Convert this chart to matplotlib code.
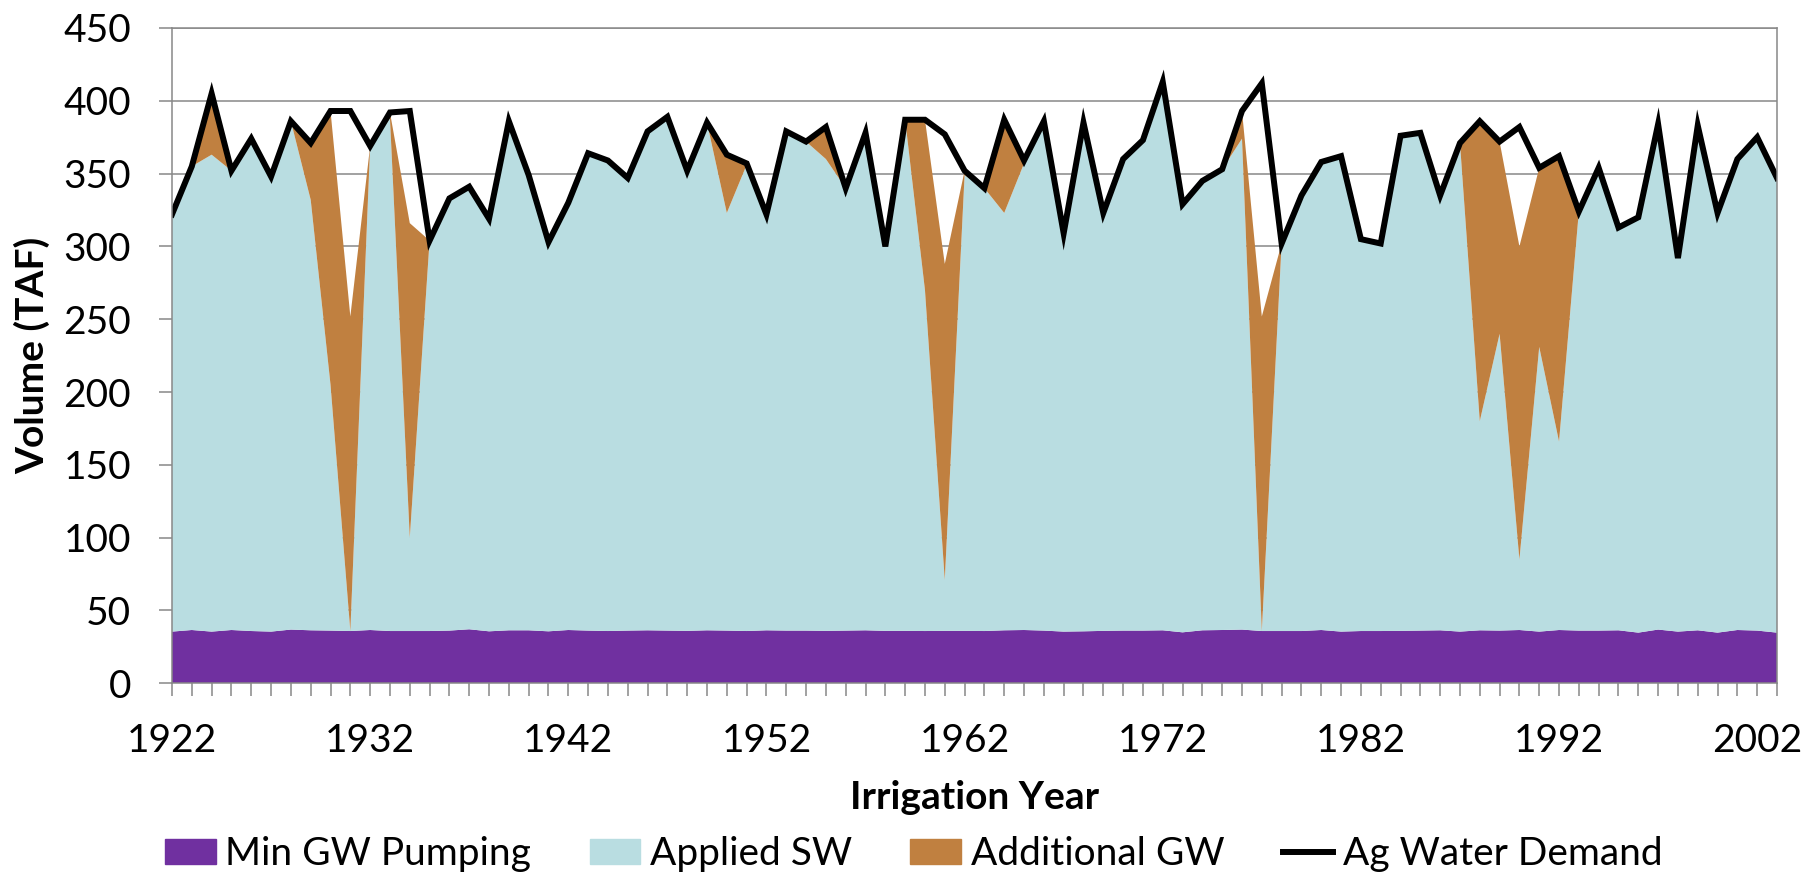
import matplotlib
matplotlib.use("Agg")
import matplotlib.pyplot as plt
from matplotlib.patches import Patch
from matplotlib.lines import Line2D

plt.rcParams['font.family'] = ['Lato', 'DejaVu Sans']

# irrigation years 1922 - 2003
years = list(range(1922, 2004))

# values (TAF)
min_gw = [35.5, 36.6, 35.5, 36.6, 35.9, 35.5, 36.9, 36.4, 36.2, 35.9,
          36.6, 35.9, 35.9, 35.9, 36.2, 37.1, 35.7, 36.4, 36.4, 35.7,
          36.6, 36.2, 35.9, 36.2, 36.4, 36.2, 36.0, 36.4, 36.2, 35.9,
          36.4, 36.2, 36.2, 36.0, 36.2, 36.4, 36.0, 36.0, 35.9, 36.0,
          36.0, 35.9, 36.4, 36.6, 36.2, 35.5, 35.7, 36.0, 36.2, 36.2,
          36.4, 35.0, 36.4, 36.6, 36.9, 35.9, 35.9, 35.9, 36.6, 35.5,
          35.9, 35.9, 36.0, 36.2, 36.4, 35.5, 36.4, 36.2, 36.6, 35.5,
          36.6, 36.2, 36.2, 36.4, 34.8, 36.9, 35.5, 36.4, 34.8, 36.6,
          36.2, 34.8]

applied_sw = [286.5, 318.4, 327.5, 315.4, 338.1, 312.5, 349.1, 295.6, 168.8, 0.0,
              332.4, 352.1, 64.1, 268.1, 296.8, 303.9, 283.3, 349.6, 312.6, 267.3,
              293.4, 327.8, 323.1, 310.8, 342.6, 352.8, 316.0, 348.6, 286.8, 320.1,
              285.6, 342.8, 335.8, 324.0, 303.8, 341.6, 264.0, 351.0, 234.1, 35.0,
              313.0, 304.1, 286.6, 320.4, 349.8, 273.5, 349.3, 287.0, 323.8, 336.8,
              376.6, 294.0, 308.6, 316.4, 337.1, 0.0, 266.1, 299.1, 321.4, 326.5,
              269.1, 266.1, 340.0, 341.8, 298.6, 335.5, 143.6, 203.8, 48.4, 195.5,
              129.4, 287.8, 317.8, 276.6, 285.2, 347.1, 256.5, 346.6, 288.2, 323.4,
              338.8, 312.2]

additional_gw = [0, 0, 42, 0, 0, 0, 0, 39, 188, 216,
                 0, 4, 216, 0, 0, 0, 0, 0, 0, 0,
                 0, 0, 0, 0, 0, 0, 0, 0, 40, 1,
                 0, 0, 0, 22, 0, 0, 0, 0, 117, 217,
                 3, 0, 64, 2, 0, 0, 0, 0, 0, 0,
                 0, 0, 0, 0, 19, 216, 0, 0, 0, 0,
                 0, 0, 0, 0, 0, 0, 206, 132, 215, 123,
                 196, 0, 0, 0, 0, 0, 0, 0, 0, 0,
                 0, 0]

ag_demand = [322, 355, 405, 352, 374, 348, 386, 371, 393, 393,
             369, 392, 393, 304, 333, 341, 319, 386, 349, 303,
             330, 364, 359, 347, 379, 389, 352, 385, 363, 357,
             322, 379, 372, 382, 340, 378, 300, 387, 387, 377,
             352, 340, 387, 359, 386, 309, 385, 323, 360, 373,
             413, 329, 345, 353, 393, 412, 302, 335, 358, 362,
             305, 302, 376, 378, 335, 371, 386, 372, 382, 354,
             362, 324, 354, 313, 320, 384, 292, 383, 323, 360,
             375, 347]

c_min = '#7030A0'
c_sw = '#B9DDE1'
c_add = '#C08040'
grid_c = '#888888'

fig = plt.figure(figsize=(18.06, 8.76), dpi=100)
ax = fig.add_axes([172 / 1806, 1 - 683.3 / 876, 1605 / 1806, 655.3 / 876])

ax.stackplot(years, min_gw, applied_sw, additional_gw,
             colors=[c_min, c_sw, c_add], linewidth=0)
ax.plot(years, ag_demand, color='black', lw=4.3, solid_joinstyle='miter')

ax.set_xlim(1922, 2003)
ax.set_ylim(0, 450)
ax.set_yticks(range(0, 451, 50))
ax.set_xticks(range(1922, 2003, 10))
ax.set_xticks(years, minor=True)
ax.yaxis.grid(True, color=grid_c, lw=1.1)
ax.set_axisbelow(True)

for s in ax.spines.values():
    s.set_color(grid_c)
    s.set_linewidth(1.1)

ax.tick_params(axis='both', which='both', direction='out', length=9.5,
               width=1.1, color=grid_c, labelsize=28)
ax.tick_params(axis='y', pad=20)
ax.tick_params(axis='x', which='major', pad=19)

ax.set_ylabel('Volume (TAF)', fontsize=28, fontweight='bold')
ax.yaxis.set_label_coords(-0.087, 0.5)
ax.yaxis.label.set_va('center')
ax.set_xlabel('Irrigation Year', fontsize=28, fontweight='bold')
ax.xaxis.set_label_coords(0.5, -0.175)
ax.xaxis.label.set_va('center')

handles = [Patch(color=c_min, label='Min GW Pumping'),
           Patch(color=c_sw, label='Applied SW'),
           Patch(color=c_add, label='Additional GW'),
           Line2D([], [], color='black', lw=4.3, label='Ag Water Demand')]
fig.legend(handles=handles, loc='center', bbox_to_anchor=(0.506, 0.025),
           ncol=4, frameon=False, fontsize=28, handlelength=1.3,
           handleheight=0.6, handletextpad=0.25, columnspacing=1.5,
           borderaxespad=0, borderpad=0)

fig.savefig('out.png', dpi=100)
